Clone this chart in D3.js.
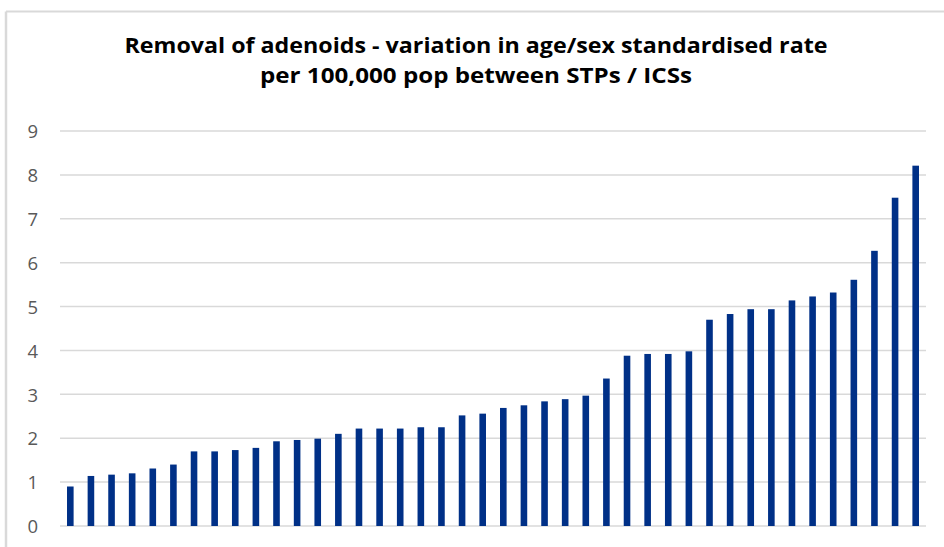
<!DOCTYPE html>
<html>
<head>
<meta charset="utf-8">
<script src="https://cdn.jsdelivr.net/npm/d3@7"></script>
<style>
  html, body { margin: 0; padding: 0; background: #fff; }
  svg { display: block; }
</style>
</head>
<body>
<svg id="chart" width="944" height="547"></svg>
<script>
// Age/sex standardised rate per 100,000 population, one value per STP / ICS, sorted ascending
const areas = d3.range(1, 43).map(i => "STP " + i);
const rates = [
  0.90, 1.14, 1.17, 1.20, 1.31, 1.40, 1.70, 1.70, 1.73, 1.78,
  1.93, 1.96, 1.99, 2.10, 2.22, 2.22, 2.22, 2.25, 2.25, 2.52,
  2.56, 2.69, 2.75, 2.84, 2.89, 2.97, 3.36, 3.88, 3.92, 3.92,
  3.98, 4.70, 4.83, 4.94, 4.94, 5.14, 5.23, 5.32, 5.61, 6.27,
  7.48, 8.21
];
const yTicks = [0, 1, 2, 3, 4, 5, 6, 7, 8, 9];
const titleLines = [
  "Removal of adenoids - variation in age/sex standardised rate",
  "per 100,000 pop between STPs / ICSs"
];

const svg = d3.select("#chart");
const W = 944, H = 547;
const plot = { left: 60, right: 926, top: 131, bottom: 526 };

// Outer frame (top and left edges visible)
svg.append("line").attr("x1", 6).attr("x2", W).attr("y1", 11.5).attr("y2", 11.5)
  .attr("stroke", "#d9d9d9").attr("stroke-width", 2);
svg.append("line").attr("x1", 6).attr("x2", 6).attr("y1", 11.5).attr("y2", H)
  .attr("stroke", "#d9d9d9").attr("stroke-width", 2.5);

const x = d3.scaleBand().domain(areas).range([plot.left, plot.right]).paddingInner(0.68).paddingOuter(0.34);
const y = d3.scaleLinear().domain([0, 9]).range([plot.bottom, plot.top]);

// Horizontal gridlines
svg.append("g")
  .selectAll("line")
  .data(yTicks)
  .join("line")
  .attr("x1", plot.left).attr("x2", plot.right)
  .attr("y1", d => y(d)).attr("y2", d => y(d))
  .attr("stroke", "#d9d9d9").attr("stroke-width", 1.5);

// Y axis labels
const yAxis = d3.axisLeft(y).tickValues(yTicks).tickSize(0).tickPadding(0).tickFormat(d3.format("d"));
const gy = svg.append("g").attr("transform", "translate(38,0)").call(yAxis);
gy.select(".domain").remove();
gy.selectAll("text")
  .attr("fill", "#595959")
  .style("font-family", "'Open Sans', 'Noto Sans', sans-serif")
  .style("font-size", "18.5px")
  .attr("dy", "0.36em");

// Bars
svg.append("g")
  .selectAll("rect")
  .data(rates)
  .join("rect")
  .attr("x", (d, i) => x(areas[i]))
  .attr("width", x.bandwidth())
  .attr("y", d => y(d))
  .attr("height", d => y(0) - y(d))
  .attr("fill", "#003087");

// Title
svg.append("g")
  .selectAll("text")
  .data(titleLines)
  .join("text")
  .attr("x", 476)
  .attr("y", (d, i) => 53 + i * 30)
  .attr("text-anchor", "middle")
  .attr("fill", "#000")
  .style("font-family", "'Open Sans', 'Noto Sans', sans-serif")
  .style("font-weight", "bold")
  .style("font-size", "20.5px")
  .attr("textLength", (d, i) => i === 0 ? 703 : 432)
  .attr("lengthAdjust", "spacingAndGlyphs")
  .text(d => d);
</script>
</body>
</html>
